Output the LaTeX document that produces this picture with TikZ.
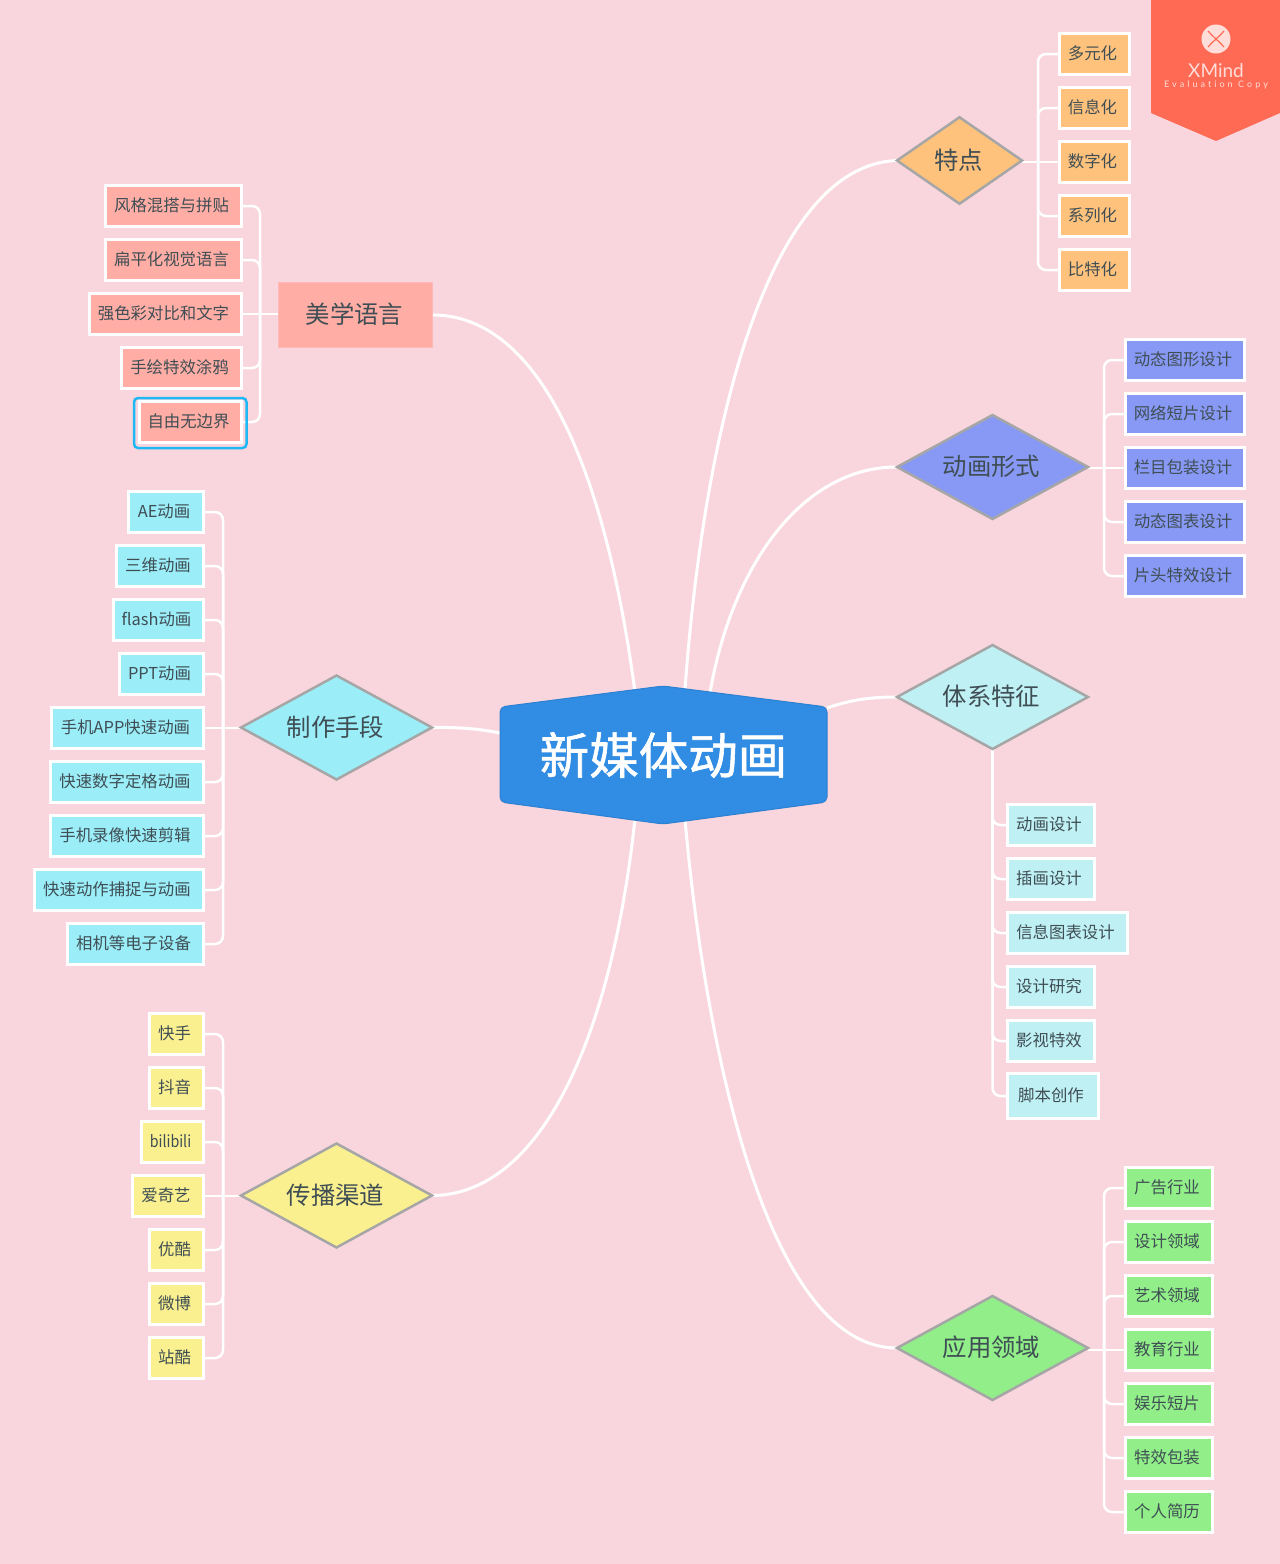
\documentclass[tikz,border=0pt]{standalone}
\usepackage{fontspec}
\setmainfont{Noto Sans CJK SC}
\newfontfamily\corefont[FakeBold=1.2]{Noto Sans CJK SC}
\newfontfamily\wmfont{Lato}
\newfontfamily\wmspaced[LetterSpace=34,Ligatures=CommonOff]{Lato}
\usetikzlibrary{shapes.geometric,calc}
\pgfdeclarelayer{backlayer}
\pgfdeclarelayer{connlayer}
\pgfsetlayers{backlayer,connlayer,main}
\definecolor{pagebg}{HTML}{F9D6DE}
\definecolor{txtc}{HTML}{3F4E54}
\definecolor{cOrange}{HTML}{FFC27C}
\definecolor{cBlue}{HTML}{8899F5}
\definecolor{cPale}{HTML}{BFF0F3}
\definecolor{cGreen}{HTML}{91EE88}
\definecolor{cSalmon}{HTML}{FFADA5}
\definecolor{cCyan}{HTML}{9BEDF8}
\definecolor{cYellow}{HTML}{FAF08F}
\definecolor{cCore}{HTML}{318CE3}
\definecolor{cGrey}{HTML}{A6A6A6}
\definecolor{cWm}{HTML}{FF6A55}
\definecolor{cWmText}{HTML}{FFDDD8}
\definecolor{cSel}{HTML}{1EB8F5}
\tikzset{
  x=1pt,y=-1pt,
  leafbox/.style={draw=white,line width=3pt,outer sep=0pt,inner sep=0pt,text=txtc,font=\fontsize{16.4}{18}\selectfont},
  topicd/.style={diamond,aspect=1.84,draw=cGrey,line width=2.5pt,outer sep=0pt,inner sep=0pt,text=txtc,font=\fontsize{24.4}{28}\selectfont},
  branchline/.style={draw=white,line width=3pt},
  comb/.style={draw=white,line width=2.5pt,rounded corners=8pt},
}
\newcommand\ltext[1]{\raisebox{0pt}[.85em][.15em]{#1}\kern4pt}
\newcommand\ttext[1]{\raisebox{0pt}[.86em][.14em]{#1}\kern2pt}
% name, x1, x2, y centre, fill, text
\newcommand\leafnode[6]{\node[leafbox,fill=#5,minimum width={#3-#2-3},minimum height=41pt] (#1) at ({(#2+#3)/2},#4) {\ltext{#6}};}
% leaf, trunk end (leaf side anchor is chosen by the macro)
\newcommand\combR[2]{\draw[comb] (#1.west) -- (#1.west -| #2) -- (#2);}
\newcommand\combL[2]{\draw[comb] (#1.east) -- (#1.east -| #2) -- (#2);}
\newcommand\combS[2]{\draw[comb] (#1) -- (#1 -| #2);}
\begin{document}
\begin{tikzpicture}
\begin{pgfonlayer}{backlayer}
\fill[pagebg] (0,0) rectangle (1280,1564);
\end{pgfonlayer}
\useasboundingbox (0,0) rectangle (1280,1564);

% core
\fill[cCore,draw=cCore!92!black,line width=1pt,rounded corners=5pt] (663,686) -- (827,707) -- (827,802) -- (663,824) -- (500,802) -- (500,707) -- cycle;
\node[inner sep=0pt,outer sep=0pt,minimum width=327pt,minimum height=138pt,text=white,font=\corefont\fontsize{49.5}{56}\selectfont] (core) at (663.5,755) {新媒体动画};

% topics
\node[topicd,aspect=1.44,fill=cOrange,minimum width=125pt,minimum height=86.5pt] (t1) at (959.5,160.5) {\ttext{特点}};
\node[topicd,fill=cBlue,minimum width=191pt,minimum height=104pt] (t2) at (992.5,467) {\ttext{动画形式}};
\node[topicd,fill=cPale,minimum width=191pt,minimum height=104pt] (t3) at (992.5,697) {\ttext{体系特征}};
\node[topicd,fill=cGreen,minimum width=191pt,minimum height=104pt] (t4) at (992.5,1348) {\ttext{应用领域}};
\node[fill=cSalmon,draw=cSalmon!70!pagebg,line width=1pt,outer sep=0pt,inner sep=0pt,minimum width=154pt,minimum height=65pt,text=txtc,font=\fontsize{24.4}{28}\selectfont] (t5) at (355.5,315) {\ttext{美学语言}};
\node[topicd,fill=cCyan,minimum width=191pt,minimum height=104pt] (t6) at (336.5,727.5) {\ttext{制作手段}};
\node[topicd,fill=cYellow,minimum width=191pt,minimum height=104pt] (t7) at (336.5,1195.5) {\ttext{传播渠道}};

% leaves of t1
\leafnode{a1}{1058}{1131}{54}{cOrange}{多元化}
\leafnode{a2}{1058}{1131}{108}{cOrange}{信息化}
\leafnode{a3}{1058}{1131}{162}{cOrange}{数字化}
\leafnode{a4}{1058}{1131}{216}{cOrange}{系列化}
\leafnode{a5}{1058}{1131}{270}{cOrange}{比特化}
% leaves of t2
\leafnode{b1}{1124}{1246}{360}{cBlue}{动态图形设计}
\leafnode{b2}{1124}{1246}{414}{cBlue}{网络短片设计}
\leafnode{b3}{1124}{1246}{468}{cBlue}{栏目包装设计}
\leafnode{b4}{1124}{1246}{522}{cBlue}{动态图表设计}
\leafnode{b5}{1124}{1246}{576}{cBlue}{片头特效设计}
% leaves of t3
\leafnode{c1}{1006}{1096}{825}{cPale}{动画设计}
\leafnode{c2}{1006}{1096}{879}{cPale}{插画设计}
\leafnode{c3}{1006}{1129}{933}{cPale}{信息图表设计}
\leafnode{c4}{1006}{1096}{987}{cPale}{设计研究}
\leafnode{c5}{1006}{1096}{1041}{cPale}{影视特效}
\node[leafbox,fill=cPale,minimum width=91pt,minimum height=45pt] (c6) at (1053,1096) {\ltext{脚本创作}};
% leaves of t4
\leafnode{d1}{1124}{1214}{1188}{cGreen}{广告行业}
\leafnode{d2}{1124}{1214}{1242}{cGreen}{设计领域}
\leafnode{d3}{1124}{1214}{1296}{cGreen}{艺术领域}
\leafnode{d4}{1124}{1214}{1350}{cGreen}{教育行业}
\leafnode{d5}{1124}{1214}{1404}{cGreen}{娱乐短片}
\leafnode{d6}{1124}{1214}{1458}{cGreen}{特效包装}
\leafnode{d7}{1124}{1214}{1512}{cGreen}{个人简历}
% leaves of t5
\leafnode{e1}{104}{243}{206}{cSalmon}{风格混搭与拼贴}
\leafnode{e2}{104}{243}{260}{cSalmon}{扁平化视觉语言}
\leafnode{e3}{88}{243}{314}{cSalmon}{强色彩对比和文字}
\leafnode{e4}{120}{243}{368}{cSalmon}{手绘特效涂鸦}
\leafnode{e5}{138}{243}{422}{cSalmon}{自由无边界}
\draw[cSel,line width=2.5pt,rounded corners=4pt] (134,398) rectangle (246.5,448);
% leaves of t6
\leafnode{f1}{127}{205}{512}{cCyan}{AE动画}
\leafnode{f2}{115}{205}{566}{cCyan}{三维动画}
\leafnode{f3}{112}{205}{620}{cCyan}{flash动画}
\leafnode{f4}{118}{205}{674}{cCyan}{PPT动画}
\leafnode{f5}{50}{205}{728}{cCyan}{手机APP快速动画}
\leafnode{f6}{49}{205}{782}{cCyan}{快速数字定格动画}
\leafnode{f7}{49}{205}{836}{cCyan}{手机录像快速剪辑}
\leafnode{f8}{33}{205}{890}{cCyan}{快速动作捕捉与动画}
\leafnode{f9}{66}{205}{944}{cCyan}{相机等电子设备}
% leaves of t7
\leafnode{g1}{148}{205}{1034}{cYellow}{快手}
\leafnode{g2}{148}{205}{1088}{cYellow}{抖音}
\leafnode{g3}{140}{205}{1142}{cYellow}{\scalebox{.87}[1]{bilibili}}
\leafnode{g4}{131}{205}{1196}{cYellow}{爱奇艺}
\leafnode{g5}{148}{205}{1250}{cYellow}{优酷}
\leafnode{g6}{148}{205}{1304}{cYellow}{微博}
\leafnode{g7}{148}{205}{1358}{cYellow}{站酷}

% trunks
\coordinate (ta) at (1038,162);
\coordinate (tb) at (1104,468);
\coordinate (td) at (1104,1350);
\coordinate (te) at (260,314);
\coordinate (tf) at (223,728);
\coordinate (tg) at (223,1196);

\begin{pgfonlayer}{connlayer}
% main branches
\draw[branchline] ([xshift=21pt,yshift=-10pt]core.north) .. controls (704,420) and (770,165) .. (t1.west);
\draw[branchline] ([xshift=46pt,yshift=-10pt]core.north) .. controls (730,570) and (800,467) .. (t2.west);
\draw[branchline] ([yshift=47pt]core.east) .. controls (850,700) and (870,697) .. (t3.west);
\draw[branchline] ([xshift=21pt,yshift=10pt]core.south) .. controls (706,1060) and (770,1348) .. (t4.west);
\draw[branchline] (t5.east) .. controls (540,315) and (606,470) .. ([xshift=-28pt,yshift=-10pt]core.north);
\draw[branchline] (t6.east) .. controls (460,727) and (480,729) .. ([yshift=22pt]core.west);
\draw[branchline] (t7.east) .. controls (540,1195) and (612,1040) .. ([xshift=-28pt,yshift=10pt]core.south);
% combs
\combR{a1}{ta}\combR{a2}{ta}\combS{a3.west}{t1.east}\combR{a4}{ta}\combR{a5}{ta}
\combR{b1}{tb}\combR{b2}{tb}\combS{b3.west}{t2.east}\combR{b4}{tb}\combR{b5}{tb}
\combR{c1}{t3.south}\combR{c2}{t3.south}\combR{c3}{t3.south}\combR{c4}{t3.south}\combR{c5}{t3.south}\combR{c6}{t3.south}
\combR{d1}{td}\combR{d2}{td}\combR{d3}{td}\combS{d4.west}{t4.east}\combR{d5}{td}\combR{d6}{td}\combR{d7}{td}
\combL{e1}{te}\combL{e2}{te}\combS{e3.east}{t5.west}\combL{e4}{te}\combL{e5}{te}
\combL{f1}{tf}\combL{f2}{tf}\combL{f3}{tf}\combL{f4}{tf}\combS{f5.east}{t6.west}\combL{f6}{tf}\combL{f7}{tf}\combL{f8}{tf}\combL{f9}{tf}
\combL{g1}{tg}\combL{g2}{tg}\combL{g3}{tg}\combS{g4.east}{t7.west}\combL{g5}{tg}\combL{g6}{tg}\combL{g7}{tg}
\end{pgfonlayer}

% watermark
\fill[cWm] (1151,0) -- (1280,0) -- (1280,113) -- (1216,141) -- (1151,113) -- cycle;
\fill[cWmText] (1216,39) circle (14.5pt);
\draw[cWm,line width=1.2pt] (1208,31) .. controls (1213,37) and (1219,41) .. (1224,47);
\draw[cWm,line width=1.2pt] (1224,31) .. controls (1219,37) and (1213,41) .. (1208,47);
\node[inner sep=0pt,text=cWmText,font=\wmfont\fontsize{19}{22}\selectfont] (wm1) at (1216,71) {XMind};
\node[inner sep=0pt,text=cWmText,font=\wmspaced\fontsize{9}{11}\selectfont] (wm2) at (1216,85) {Evaluation Copy};
\end{tikzpicture}
\end{document}
